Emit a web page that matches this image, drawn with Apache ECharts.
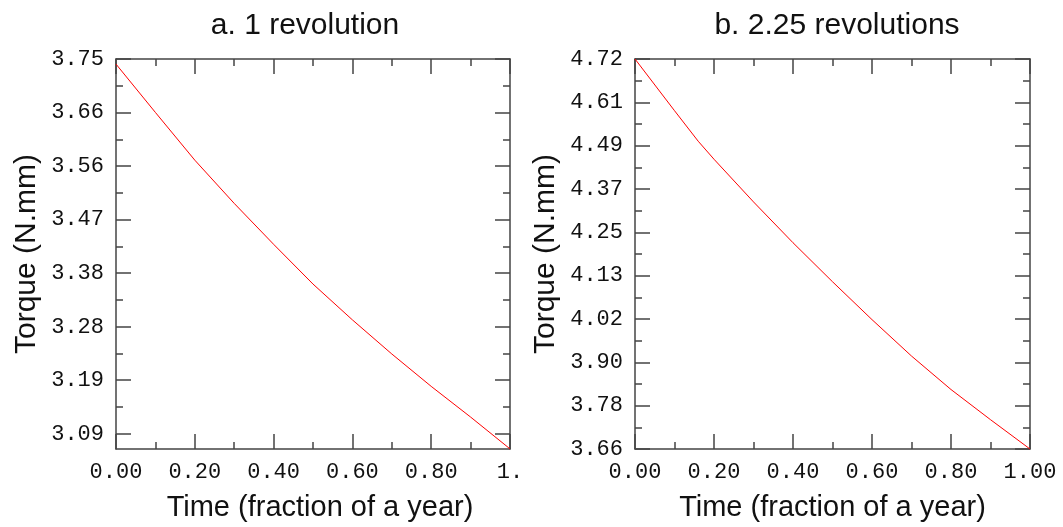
<!DOCTYPE html>
<html>
<head>
    <meta charset="utf-8">
    <title>Torque vs time</title>
    <script src="https://cdn.jsdelivr.net/npm/echarts@6/dist/echarts.min.js"></script>
</head>
<body style="margin:0;background:#fff;">
    <div id="main" style="width: 1063px;height:527px;"></div>
    <script type="text/javascript">
    // time axis (fraction of a year)
    var timeA = [0, 0.1, 0.2, 0.3, 0.4, 0.5, 0.6, 0.7, 0.8, 0.9, 1.0];
    var timeB = [0, 0.1, 0.16, 0.2, 0.3, 0.4, 0.5, 0.6, 0.7, 0.8, 0.9, 1.0];
    // torque (N.mm)
    var torqueA = [3.744, 3.659, 3.575, 3.499, 3.427, 3.357, 3.294, 3.234, 3.177, 3.123, 3.067];
    var torqueB = [4.7235, 4.583, 4.500, 4.451, 4.335, 4.224, 4.118, 4.015, 3.916, 3.825, 3.743, 3.6633];

    // y tick values as drawn (labels are these rounded to 2 decimals)
    var yTicksA = [3.753, 3.6588, 3.5646, 3.4704, 3.3762, 3.2820, 3.1878, 3.0936];
    var yTicksB = [4.7235, 4.6057, 4.4879, 4.3701, 4.2523, 4.1345, 4.0167, 3.8989, 3.7811, 3.6633];
    var yRangeA = [3.0668, 3.753];
    var yRangeB = [3.6633, 4.7235];
    var xLabelsA = ['0.00', '0.20', '0.40', '0.60', '0.80', '1.'];
    var xLabelsB = ['0.00', '0.20', '0.40', '0.60', '0.80', '1.00'];

    var titles = ['a. 1 revolution', 'b. 2.25 revolutions'];

    function midpoints(arr) {
        var out = [];
        for (var i = 0; i < arr.length - 1; i++) out.push((arr[i] + arr[i + 1]) / 2);
        return out;
    }
    function pairs(xs, ys) {
        return xs.map(function (x, i) { return [x, ys[i]]; });
    }

    var frame = '#444';
    var mono = 'Liberation Mono';
    var sans = 'Liberation Sans';

    function xAxes(grid, labels, shift) {
        var base = {
            gridIndex: grid, type: 'value', min: 0, max: 1, interval: 0.2,
            axisLine: { onZero: false, lineStyle: { color: frame, width: 1.5 } },
            axisTick: { inside: true, length: 15, lineStyle: { color: frame, width: 1.5 } },
            minorTick: { show: true, splitNumber: 2, length: 7, lineStyle: { color: frame, width: 1.5 } },
            splitLine: { show: false }
        };
        var bottom = Object.assign({}, base, {
            position: 'bottom',
            name: 'Time (fraction of a year)',
            nameLocation: 'middle', nameGap: 44,
            nameTextStyle: { fontFamily: sans, fontSize: 29, color: '#111', padding: [0, 0, 0, shift] },
            axisLabel: {
                margin: 12, fontFamily: mono, fontSize: 22, color: '#111',
                formatter: function (v) { return labels[Math.round(v / 0.2)]; }
            }
        });
        var top = Object.assign({}, base, { position: 'top', axisLabel: { show: false } });
        return [bottom, top];
    }

    function yAxes(grid, range, ticks) {
        var minor = midpoints(ticks);
        function ax(pos, values, len, labels, line) {
            var a = {
                gridIndex: grid, type: 'value', position: pos,
                min: range[0], max: range[1],
                axisLine: { show: line, onZero: false, lineStyle: { color: frame, width: 1.5 } },
                axisTick: { inside: true, length: len, customValues: values, lineStyle: { color: frame, width: 1.5 } },
                splitLine: { show: false },
                axisLabel: { show: false }
            };
            if (labels) {
                a.axisLabel = {
                    show: true, customValues: ticks, margin: 12,
                    fontFamily: mono, fontSize: 22, color: '#111',
                    formatter: function (v) { return v.toFixed(2); }
                };
                a.name = 'Torque (N.mm)';
                a.nameLocation = 'middle';
                a.nameGap = 74;
                a.nameTextStyle = { fontFamily: sans, fontSize: 30, color: '#111' };
            }
            return a;
        }
        return [
            ax('left', ticks, 15, true, true),
            ax('left', minor, 7, false, false),
            ax('right', ticks, 15, false, true),
            ax('right', minor, 7, false, false)
        ];
    }

    var myChart = echarts.init(document.getElementById('main'));
    var option = {
        animation: false,
        backgroundColor: '#fff',
        title: [{
            text: titles[0], left: 300, top: 6, textAlign: 'center',
            textStyle: { fontFamily: sans, fontSize: 30, fontWeight: 'normal', color: '#111' }
        }, {
            text: titles[1], left: 832, top: 6, textAlign: 'center',
            textStyle: { fontFamily: sans, fontSize: 30, fontWeight: 'normal', color: '#111' }
        }],
        grid: [
            { left: 116, top: 59, width: 394, height: 394, containLabel: false },
            { left: 635, top: 59, width: 395, height: 394, containLabel: false }
        ],
        xAxis: xAxes(0, xLabelsA, 14).concat(xAxes(1, xLabelsB, 0)),
        yAxis: yAxes(0, yRangeA, yTicksA).concat(yAxes(1, yRangeB, yTicksB)),
        series: [{
            type: 'line', xAxisIndex: 0, yAxisIndex: 0,
            data: pairs(timeA, torqueA),
            showSymbol: false,
            lineStyle: { color: '#ff0000', width: 1 }
        }, {
            type: 'line', xAxisIndex: 2, yAxisIndex: 4,
            data: pairs(timeB, torqueB),
            showSymbol: false,
            lineStyle: { color: '#ff0000', width: 1 }
        }]
    };
    myChart.setOption(option);
    </script>
</body>
</html>
